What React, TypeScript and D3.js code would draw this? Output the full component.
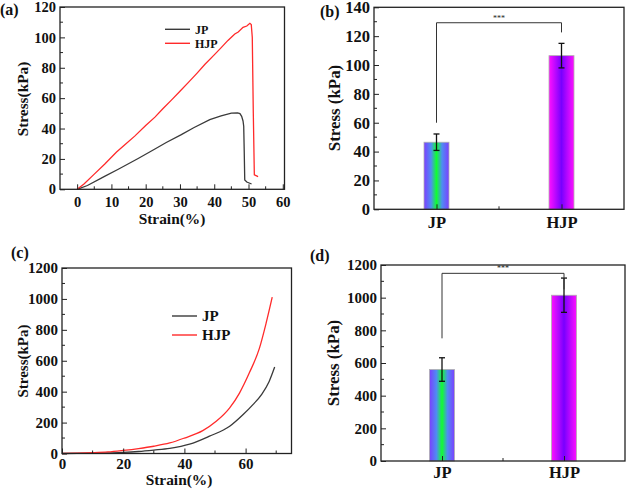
import React, { useEffect, useRef } from "react";
import * as d3 from "d3";

const FONT = "'Liberation Serif','Times New Roman',serif";

// ---------- (a) tensile curves ----------
const tensileStrainJP = [0, 3, 8, 12, 17.8, 22.7, 26, 30.4, 34, 38.7, 42, 45, 46.8, 47.5, 48, 48.4, 48.6, 48.75, 48.9, 49.5, 50.9];
const tensileStressJP = [0, 2.5, 8.5, 13.2, 20.3, 26.5, 30.8, 36, 40.5, 45.9, 48.3, 50.2, 50.3, 49.8, 48, 45, 41.5, 25, 6.2, 4.8, 3.5];
const tensileStrainHJP = [0, 2, 5, 8, 11.5, 12, 14, 16.8, 20, 22.7, 25, 27.5, 30, 32.4, 35, 37.3, 40, 42.1, 44, 46, 47, 48.4, 49.5, 50.4, 50.8, 51.1, 51.4, 51.7, 52.2, 52.8];
const tensileStressHJP = [0, 3.5, 10, 16.5, 24.5, 25.5, 29.5, 35, 42, 47.5, 53, 58.7, 64.5, 70.2, 76.5, 82.3, 88.5, 93.4, 98, 102.2, 103.5, 106.6, 107.5, 109.3, 108.5, 100, 50, 9.5, 9, 8.4];
const tensileXTicks = [0, 10, 20, 30, 40, 50, 60];
const tensileXMinor = [-5, 5, 15, 25, 35, 45, 55];
const tensileYTicks = [0, 20, 40, 60, 80, 100, 120];
const tensileYMinor = [10, 30, 50, 70, 90, 110];

// ---------- (b) tensile strength bars ----------
const categories = ["JP", "HJP"];
const tensileMeans = [46.5, 106.5];
const tensileErrs = [5.7, 8.5];
const tensileBracket = [60, 129.3, 122.6]; // left foot, top, right foot
const barTensileYTicks = [0, 20, 40, 60, 80, 100, 120, 140];
const barTensileYMinor = [10, 30, 50, 70, 90, 110, 130];

// ---------- (c) compressive curves ----------
const compStrainJP = [0, 10, 20, 25, 30, 35.2, 41.7, 48.2, 54.8, 59.2, 62.4, 65.2, 67.7, 69.5];
const compStressJP = [0, 2, 7, 13, 22, 33, 60, 112, 176, 252, 316, 381, 466, 559];
const compStrainHJP = [0, 5, 10, 15, 20, 25, 30, 35.2, 40, 46, 50.4, 54.8, 58, 61.3, 64.5, 66.7, 68.7];
const compStressHJP = [0, 2, 5, 10, 20, 32, 47, 68, 100, 148, 208, 295, 391, 525, 680, 843, 1011];
const compXTicks = [0, 20, 40, 60];
const compXMinor = [10, 30, 50, 70];
const compYTicks = [0, 200, 400, 600, 800, 1000, 1200];
const compYMinor = [100, 300, 500, 700, 900, 1100];

// ---------- (d) compressive strength bars ----------
const compMeans = [560, 1015];
const compErrs = [72, 105];
const compBracket = [751, 1149, 1051];
const barCompYTicks = [0, 200, 400, 600, 800, 1000, 1200];
const barCompYMinor = [100, 300, 500, 700, 900, 1100];

const seriesNames = ["JP", "HJP"];
const lineColors = ["#3a3a3a", "#ff2a2a"];

type Sel = d3.Selection<SVGGElement, unknown, null, undefined>;

function styleText(sel: any, size: number) {
  sel.attr("font-family", FONT).attr("font-weight", "bold").attr("font-size", size).attr("fill", "#111");
}

function frameAndY(g: Sel, x0: number, x1: number, y: d3.ScaleLinear<number, number>, ticks: number[], minor: number[], font: number, pad: number) {
  const [yb, yt] = y.range();
  g.append("rect").attr("x", x0).attr("y", yt).attr("width", x1 - x0).attr("height", yb - yt)
    .attr("fill", "none").attr("stroke", "#222").attr("stroke-width", 1.3);
  const ga = g.append("g").attr("transform", `translate(${x0},0)`)
    .call(d3.axisLeft(y).tickValues(ticks).tickSize(-5).tickPadding(pad).tickFormat(d3.format("d")) as any);
  ga.select(".domain").remove();
  ga.selectAll("line").attr("stroke", "#222");
  styleText(ga.selectAll("text"), font);
  g.append("g").selectAll("line").data(minor).join("line")
    .attr("x1", x0).attr("x2", x0 + 3).attr("y1", (d) => y(d)).attr("y2", (d) => y(d)).attr("stroke", "#222");
}

function xLinear(g: Sel, x: d3.ScaleLinear<number, number>, yb: number, ticks: number[], minor: number[], font: number, pad: number) {
  const ga = g.append("g").attr("transform", `translate(0,${yb})`)
    .call(d3.axisBottom(x).tickValues(ticks).tickSize(-5).tickPadding(pad).tickFormat(d3.format("d")) as any);
  ga.select(".domain").remove();
  ga.selectAll("line").attr("stroke", "#222");
  styleText(ga.selectAll("text"), font);
  g.append("g").selectAll("line").data(minor.filter((d) => x(d) > x.range()[0] + 1)).join("line")
    .attr("x1", (d) => x(d)).attr("x2", (d) => x(d)).attr("y1", yb).attr("y2", yb - 3).attr("stroke", "#222");
}

function rotatedTitle(g: Sel, text: string, cx: number, cy: number, size: number) {
  const t = g.append("text").attr("transform", `translate(${cx},${cy}) rotate(-90)`)
    .attr("text-anchor", "middle").attr("dy", "0.35em").text(text);
  styleText(t, size);
}

function label(g: Sel, text: string, x: number, y: number, size: number, anchor = "start") {
  const t = g.append("text").attr("x", x).attr("y", y).attr("text-anchor", anchor).text(text);
  styleText(t, size);
}

function linePanel(g: Sel, x: any, y: any, xs: number[][], ys: number[][], curve: any) {
  xs.forEach((sx, i) => {
    const pts = sx.map((v, j) => [v, ys[i][j]] as [number, number]);
    g.append("path").datum(pts)
      .attr("d", d3.line<[number, number]>().x((d) => x(d[0])).y((d) => y(d[1])).curve(curve) as any)
      .attr("fill", "none").attr("stroke", lineColors[i]).attr("stroke-width", 1.3);
  });
}

function legend(g: Sel, x0: number, x1: number, ys: number[], font: number) {
  seriesNames.forEach((n, i) => {
    g.append("line").attr("x1", x0).attr("x2", x1).attr("y1", ys[i]).attr("y2", ys[i])
      .attr("stroke", lineColors[i]).attr("stroke-width", 1.4);
    const t = g.append("text").attr("x", x1 + 5).attr("y", ys[i]).attr("dy", "0.35em").text(n);
    styleText(t, font);
  });
}

function barPanel(g: Sel, x0: number, x1: number, y: d3.ScaleLinear<number, number>, means: number[], errs: number[], bracket: number[], catFont: number, catPad: number) {
  const xb = d3.scalePoint<string>().domain(categories).range([x0, x1]).padding(0.5);
  const yb = y.range()[0];
  const bw = 25;
  categories.forEach((c, i) => {
    g.append("rect").attr("x", xb(c)! - bw / 2).attr("y", y(means[i])).attr("width", bw).attr("height", yb - y(means[i]))
      .attr("fill", `url(#grad${i})`).attr("stroke", "#b0b0b0").attr("stroke-width", 0.8);
    const cx = xb(c)!;
    const lo = y(means[i] - errs[i]), hi = y(means[i] + errs[i]);
    g.append("line").attr("x1", cx).attr("x2", cx).attr("y1", lo).attr("y2", hi).attr("stroke", "#111").attr("stroke-width", 1.3);
    [lo, hi].forEach((v) => g.append("line").attr("x1", cx - 3).attr("x2", cx + 3).attr("y1", v).attr("y2", v).attr("stroke", "#111").attr("stroke-width", 1.3));
  });
  const ga = g.append("g").attr("transform", `translate(0,${yb})`)
    .call(d3.axisBottom(xb).tickSize(-5).tickPadding(catPad) as any);
  ga.select(".domain").remove();
  ga.selectAll("line").attr("stroke", "#222");
  styleText(ga.selectAll("text"), catFont);
  const mid = (xb(categories[0])! + xb(categories[1])!) / 2;
  g.append("line").attr("x1", mid).attr("x2", mid).attr("y1", yb).attr("y2", yb - 3).attr("stroke", "#222");
  const bx0 = xb(categories[0])!, bx1 = xb(categories[1])!;
  g.append("path")
    .attr("d", `M${bx0},${y(bracket[0])}V${y(bracket[1])}H${bx1}V${y(bracket[2])}`)
    .attr("fill", "none").attr("stroke", "#333").attr("stroke-width", 1);
  const t = g.append("text").attr("x", mid).attr("y", y(bracket[1]) - 2).attr("text-anchor", "middle").text("***");
  t.attr("font-family", FONT).attr("font-size", 8).attr("fill", "#222");
}

export default function App() {
  const ref = useRef<SVGSVGElement>(null);
  useEffect(() => {
    const svg = d3.select(ref.current!);
    svg.selectAll("*").remove();
    const defs = svg.append("defs");
    const gradStops = [
      [["0%", "#7b3fff"], ["28%", "#4f8cf2"], ["50%", "#10ff30"], ["72%", "#4f8cf2"], ["100%", "#7b3fff"]],
      [["0%", "#ff10ff"], ["50%", "#7800ff"], ["100%", "#ff10ff"]],
    ];
    gradStops.forEach((st, i) => {
      const lg = defs.append("linearGradient").attr("id", `grad${i}`).attr("x1", "0%").attr("x2", "100%").attr("y1", "0%").attr("y2", "0%");
      st.forEach(([o, c]) => lg.append("stop").attr("offset", o).attr("stop-color", c));
    });
    const root = svg.append("g") as unknown as Sel;

    // (a)
    const xa = d3.scaleLinear().domain([-5, 60.5]).range([60, 284.5]);
    const ya = d3.scaleLinear().domain([0, 120]).range([189.3, 7]);
    const ga = root.append("g") as Sel;
    linePanel(ga, xa, ya, [tensileStrainJP, tensileStrainHJP], [tensileStressJP, tensileStressHJP], d3.curveLinear);
    frameAndY(ga, 60, 284.5, ya, tensileYTicks, tensileYMinor, 14.5, 4);
    xLinear(ga, xa, 189.3, tensileXTicks, tensileXMinor, 14.5, 7);
    legend(ga, 165, 190, [29.3, 43.3], 12);
    rotatedTitle(ga, "Stress(kPa)", 23, 99, 15.3);
    label(ga, "Strain(%)", 172, 224, 15.4, "middle");
    label(ga, "(a)", 0, 15, 16);

    // (b)
    const yb = d3.scaleLinear().domain([0, 140]).range([209.3, 7.3]);
    const gb = root.append("g") as Sel;
    barPanel(gb, 374, 624, yb, tensileMeans, tensileErrs, tensileBracket, 16.5, 7);
    frameAndY(gb, 374, 624, yb, barTensileYTicks, barTensileYMinor, 16.5, 4);
    rotatedTitle(gb, "Stress (kPa)", 334, 108, 16.9);
    label(gb, "(b)", 320, 17, 16);

    // (c)
    const xc = d3.scaleLinear().domain([0, 75]).range([62, 291.5]);
    const yc = d3.scaleLinear().domain([0, 1200]).range([453.5, 268]);
    const gc = root.append("g") as Sel;
    linePanel(gc, xc, yc, [compStrainJP, compStrainHJP], [compStressJP, compStressHJP], d3.curveMonotoneX);
    frameAndY(gc, 62, 291.5, yc, compYTicks, compYMinor, 15, 4);
    xLinear(gc, xc, 453.5, compXTicks, compXMinor, 15, 5);
    legend(gc, 172, 197, [316, 335], 15);
    rotatedTitle(gc, "Stress(kPa)", 23, 361, 15);
    label(gc, "Strain(%)", 179, 485, 15.4, "middle");
    label(gc, "(c)", 11, 258, 16);

    // (d)
    const yd = d3.scaleLinear().domain([0, 1200]).range([461, 265]);
    const gd = root.append("g") as Sel;
    barPanel(gd, 381, 625, yd, compMeans, compErrs, compBracket, 16.5, 5.5);
    frameAndY(gd, 381, 625, yd, barCompYTicks, barCompYMinor, 15, 4);
    rotatedTitle(gd, "Stress (kPa)", 333, 363, 16.9);
    label(gd, "(d)", 310, 261, 16);
  }, []);
  return (
    <svg ref={ref} width={627} height={489} style={{ position: "absolute", left: 0, top: 0, background: "#fff" }} />
  );
}
